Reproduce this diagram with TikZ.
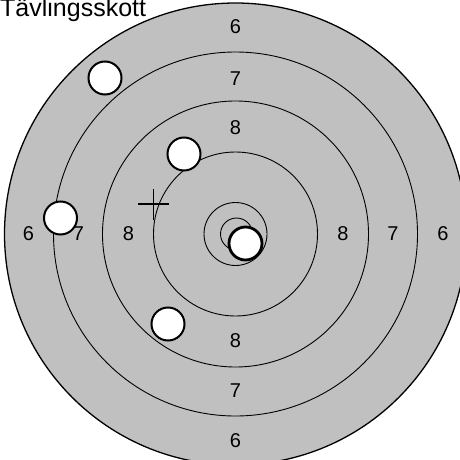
\documentclass[tikz,border=0pt]{standalone}
\usepackage{fontspec}
\setmainfont{Liberation Sans}
\definecolor{targetgray}{RGB}{192,192,192}
\begin{document}
\begin{tikzpicture}[x=1pt,y=-1pt,
  ring/.style={circle,draw,line width=0.9pt,inner sep=0pt},
  hole/.style={circle,draw,fill=white,line width=2pt,inner sep=0pt,minimum size=33pt},
  score/.style={font=\fontsize{20}{24}\selectfont,inner sep=0pt},
  crossline/.style={line width=1.2pt}]
\useasboundingbox (0,0) rectangle (460,460);
\clip (0,0) rectangle (460,460);
\coordinate (c) at (235.5,234);
% rings
\node[ring, fill=targetgray, line width=1.3pt, minimum size=462pt] (r6) at (c) {};
\node[ring, minimum size=364pt] (r7) at (c) {};
\node[ring, minimum size=266pt] (r8) at (c) {};
\node[ring, minimum size=164pt] (r9) at (c) {};
\node[ring, minimum size=63pt] (r10) at (235.5,234) {};
\node[ring, minimum size=32pt] (r11) at (236.5,234) {};
% title
\node[anchor=base west, inner sep=0pt, font=\fontsize{25}{30}\selectfont] (title) at (0,17) {Tävlingsskott};
% cross
\coordinate (xl) at (138,204);
\coordinate (xr) at (169,204);
\coordinate (xt) at (153.5,189);
\coordinate (xb) at (153.5,220);
\draw[crossline] (xl) -- (xr);
\draw[crossline] (xt) -- (xb);
% holes
\node[hole] (h1) at (105,78) {};
\node[hole] (h2) at (184,154) {};
\node[hole] (h3) at (60.5,218) {};
\node[hole] (h4) at (168,324) {};
\node[hole, line width=2.8pt] (h5) at (245.5,243.5) {};
% scores
\node[score] (t6) at (235.5,27) {6};
\node[score] (t7) at (235.5,79) {7};
\node[score] (t8) at (235.5,128) {8};
\node[score] (b8) at (235.5,341) {8};
\node[score] (b7) at (235.5,391) {7};
\node[score] (b6) at (235.5,441) {6};
\node[score] (l6) at (28.5,234) {6};
\node[score] (l7) at (78.5,234) {7};
\node[score] (l8) at (128.5,234) {8};
\node[score] (rr8) at (343,234) {8};
\node[score] (rr7) at (393,234) {7};
\node[score] (rr6) at (443,234) {6};
\end{tikzpicture}
\end{document}
